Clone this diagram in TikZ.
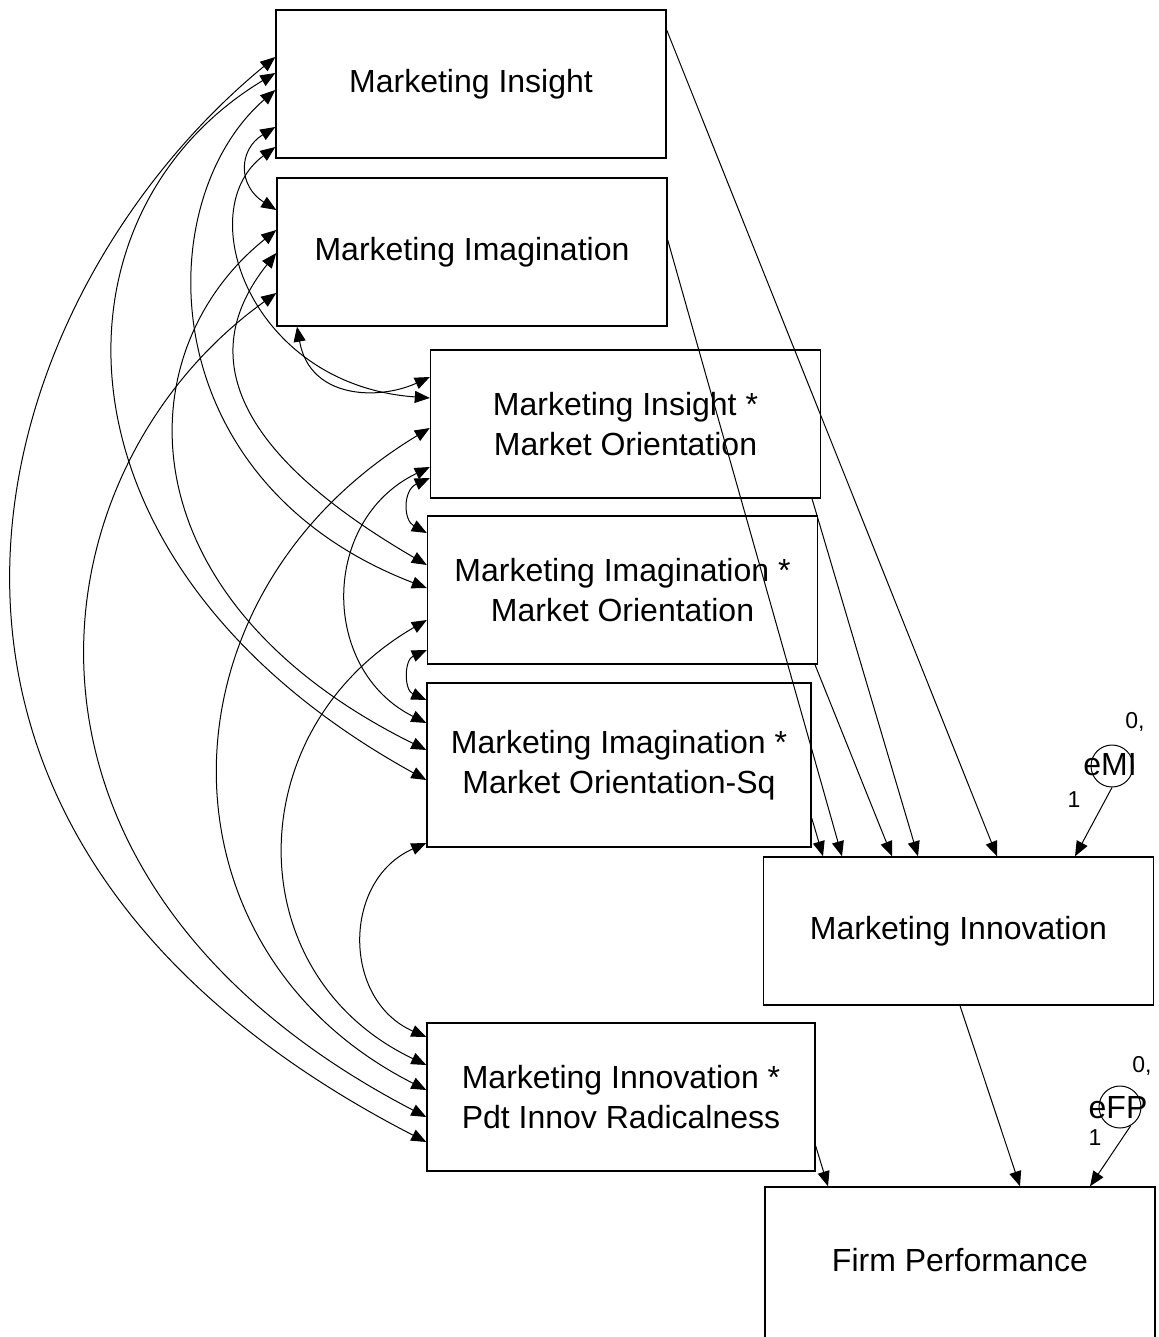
\documentclass[tikz,border=0pt]{standalone}
\usepackage{fontspec}
\setmainfont{Liberation Sans}
\usetikzlibrary{arrows.meta}

\begin{document}
\begin{tikzpicture}[x=0.5pt, y=-0.5pt, line width=0.5pt,
    >={Triangle[length=7.5pt, width=6pt]},
    var/.style={draw, line width=0.7pt, rectangle, inner sep=0pt, align=center,
        minimum width=195pt, minimum height=74pt, font=\fontsize{16}{20}\selectfont},
    errc/.style={draw, circle, inner sep=0pt, minimum size=21pt},
    etxt/.style={inner sep=0pt, font=\fontsize{16}{20}\selectfont},
    wtxt/.style={inner sep=0pt, font=\fontsize{11.5}{13}\selectfont},
    cov/.style={<->},
    reg/.style={->}]
    \useasboundingbox (0,0) rectangle (1159,1337);

    \node[var] (ins) at (471,84) {Marketing Insight};
    \node[var] (img) at (472,252) {Marketing Imagination};
    \node[var] (insmo) at (625.5,424) {Marketing Insight *\\Market Orientation};
    \node[var] (imgmo) at (622.5,590) {Marketing Imagination *\\Market Orientation};
    \node[var, minimum width=192pt, minimum height=82pt] (imgsq) at (619,765) {Marketing Imagination *\\Market Orientation-Sq};
    \node[var, minimum width=194pt] (innpir) at (621,1097) {Marketing Innovation *\\Pdt Innov Radicalness};
    \node[var] (inn) at (958.5,931) {Marketing Innovation};
    \node[var, minimum height=80pt, text depth=7pt] (fp) at (960,1267) {Firm Performance};

    \node[errc] (emi) at (1112,766) {};
    \node[etxt] (emitxt) at (1110,765) {eMI};
    \node[wtxt] (emimean) at (1135,722) {0,};
    \node[wtxt] (emiw) at (1074,800) {1};
    \node[errc] (efp) at (1120,1107) {};
    \node[etxt] (efptxt) at (1118,1108) {eFP};
    \node[wtxt] (efpmean) at (1142,1066) {0,};
    \node[wtxt] (efpw) at (1095,1138) {1};

    \coordinate (a1) at (ins.west |- 0,57);
    \coordinate (a2) at (ins.west |- 0,73);
    \coordinate (a3) at (ins.west |- 0,90);
    \coordinate (a4) at (ins.west |- 0,127);
    \coordinate (a5) at (ins.west |- 0,147);
    \coordinate (b1) at (img.west |- 0,210);
    \coordinate (b2) at (img.west |- 0,230);
    \coordinate (b3) at (img.west |- 0,253);
    \coordinate (b4) at (img.west |- 0,293);
    \coordinate (b5) at (img.south -| 297,0);
    \coordinate (c1) at (insmo.west |- 0,377);
    \coordinate (c2) at (insmo.west |- 0,398);
    \coordinate (c3) at (insmo.west |- 0,428);
    \coordinate (c4) at (insmo.west |- 0,467);
    \coordinate (c5) at (insmo.west |- 0,478);
    \coordinate (d1) at (imgmo.west |- 0,533);
    \coordinate (d2) at (imgmo.west |- 0,565);
    \coordinate (d3) at (imgmo.west |- 0,588);
    \coordinate (d4) at (imgmo.west |- 0,620);
    \coordinate (d5) at (imgmo.west |- 0,650);
    \coordinate (e1) at (imgsq.west |- 0,700);
    \coordinate (e2) at (imgsq.west |- 0,723);
    \coordinate (e3) at (imgsq.west |- 0,750);
    \coordinate (e4) at (imgsq.west |- 0,780);
    \coordinate (e5) at (imgsq.west |- 0,843);
    \coordinate (f1) at (innpir.west |- 0,1037);
    \coordinate (f2) at (innpir.west |- 0,1065);
    \coordinate (f3) at (innpir.west |- 0,1090);
    \coordinate (f4) at (innpir.west |- 0,1117);
    \coordinate (f5) at (innpir.west |- 0,1142);

    \draw[cov] (a1) .. controls (-20,300) and (-180,830) .. (f5);
    \draw[cov] (a2) .. controls (40,215) and (40,567) .. (e4);
    \draw[cov] (a3) .. controls (149,200) and (149,481) .. (d3);
    \draw[cov] (a4) .. controls (238,150) and (238,186) .. (b1);
    \draw[cov] (a5) .. controls (190,210) and (250,385) .. (c2);
    \draw[cov] (b2) .. controls (123,353) and (123,600) .. (e3);
    \draw[cov] (b3) .. controls (215,330) and (195,430) .. (d2);
    \draw[cov] (b4) .. controls (30,470) and (-30,880) .. (f4);
    \draw[cov] (b5) .. controls (310,400) and (380,400) .. (c1);
    \draw[cov] (c3) .. controls (150,597) and (150,950) .. (f3);
    \draw[cov] (c4) .. controls (320,520) and (320,670) .. (e2);
    \draw[cov] (c5) .. controls (403,490) and (403,520) .. (d1);
    \draw[cov] (d4) .. controls (237,730) and (237,975) .. (f2);
    \draw[cov] (d5) .. controls (404,660) and (404,690) .. (e1);
    \draw[cov] (e5) .. controls (342,880) and (342,1000) .. (f1);

    \draw[reg] (ins.east |- 0,30) -- (inn.north -| 997,0);
    \draw[reg] (img.east |- 0,240) -- (inn.north -| 842,0);
    \draw[reg] (insmo.south -| 812,0) -- (inn.north -| 918,0);
    \draw[reg] (imgmo.south -| 815,0) -- (inn.north -| 892,0);
    \draw[reg] (imgsq.east |- 0,818) -- (inn.north -| 823,0);
    \draw[reg] (emi.south) -- (inn.north -| 1075,0);
    \draw[reg] (inn.south -| 960,0) -- (fp.north -| 1020,0);
    \draw[reg] (innpir.east |- 0,1146) -- (fp.north -| 828,0);
    \draw[reg] (efp.-60) -- (fp.north -| 1090,0);
\end{tikzpicture}
\end{document}
